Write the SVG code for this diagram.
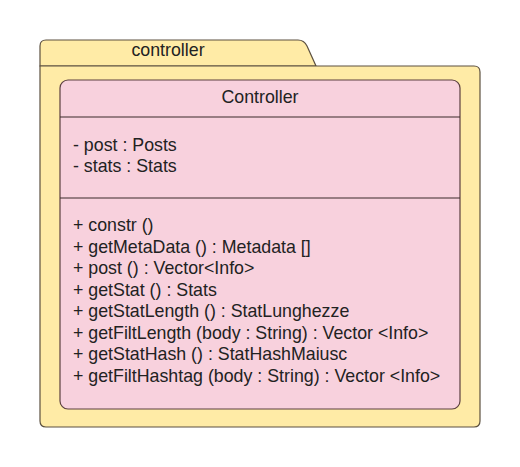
<svg xmlns="http://www.w3.org/2000/svg" width="520" height="467" viewBox="0 0 520 467">
<style>
.pkg{fill:#FFEBA6;stroke:#5C5040;stroke-width:1.2}
.cls{fill:#F8D1DD;stroke:#5C4040;stroke-width:1.2}
.sep{stroke:#3A2A2A;stroke-width:1.2}
text{font-family:"Liberation Sans",Arial,sans-serif;font-size:17.8px;fill:#222}
</style>
<rect width="520" height="467" fill="#FFFFFF"/>
<g id="package-controller">
<path class="pkg" d="M40,66 L40,46 Q40,40 46,40 L298,40 Q304,40 307,46 L316,66 Z"/>
<path class="pkg" d="M40,66 L474,66 Q480,66 480,72 L480,421 Q480,427 474,427 L46,427 Q40,427 40,421 Z"/>
<text x="168" y="56" text-anchor="middle">controller</text>
</g>
<g id="class-Controller">
<rect class="cls" x="60" y="80" width="400" height="329" rx="8" ry="8"/>
<line class="sep" x1="60" y1="117" x2="460" y2="117"/>
<line class="sep" x1="60" y1="198" x2="460" y2="198"/>
<text x="260" y="103" text-anchor="middle">Controller</text>
<text x="73" y="151">- post : Posts</text>
<text x="73" y="172">- stats : Stats</text>
<text x="73" y="231">+ constr ()</text>
<text x="73" y="252.5">+ getMetaData () : Metadata []</text>
<text x="73" y="274">+ post () : Vector&lt;Info&gt;</text>
<text x="73" y="295.5">+ getStat () : Stats</text>
<text x="73" y="317">+ getStatLength () : StatLunghezze</text>
<text x="73" y="338.5">+ getFiltLength (body : String) : Vector &lt;Info&gt;</text>
<text x="73" y="360">+ getStatHash () : StatHashMaiusc</text>
<text x="73" y="381.5">+ getFiltHashtag (body : String) : Vector &lt;Info&gt;</text>
</g>
<g id="connectors"/>
</svg>
